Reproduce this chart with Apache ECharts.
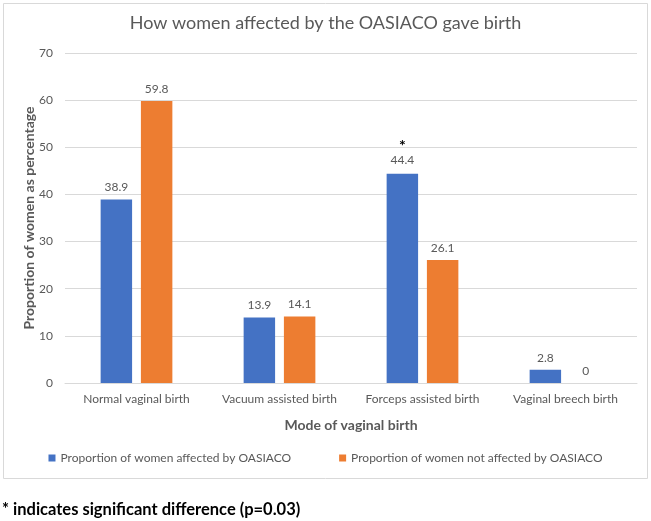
<!DOCTYPE html>
<html><head><meta charset="utf-8">
<script src="https://cdn.jsdelivr.net/npm/echarts@6/dist/echarts.min.js"></script>
<style>html,body{margin:0;padding:0;background:#fff}#c{width:651px;height:521px}</style>
</head><body><div id="c"></div>
<script>
const categories = ['Normal vaginal birth', 'Vacuum assisted birth', 'Forceps assisted birth', 'Vaginal breech birth'];
const affected = [38.9, 13.9, 44.4, 2.8];
const notAffected = [59.8, 14.1, 26.1, 0];
const significant = [false, false, true, false];
const yTicks = [0, 10, 20, 30, 40, 50, 60, 70];

const F = 'Lato, "Open Sans", sans-serif';
const chart = echarts.init(document.getElementById('c'));
const labelBase = { show: true, position: 'top', color: '#595959', fontFamily: F, fontSize: 12, distance: 6 };
chart.setOption({
  animation: false,
  title: { text: 'How women affected by the OASIACO gave birth', left: 'center', top: 9,
    textStyle: { fontFamily: F, fontSize: 18, fontWeight: 'normal', color: '#595959' } },
  graphic: [
    { type: 'rect', shape: { x: 3.5, y: 3.5, width: 644, height: 475 }, style: { fill: 'none', stroke: '#d9d9d9', lineWidth: 1 }, z: -1 },
    { type: 'text', left: 2, top: 501, style: { text: '* indicates significant difference (p=0.03)', fontFamily: F, fontSize: 16.5, fontWeight: 'bold', fill: '#000' } }
  ],
  grid: { left: 65, right: 14, top: 53, bottom: 138 },
  legend: { top: 447, left: 'center', itemWidth: 7, itemHeight: 7, itemGap: 48, icon: 'rect',
    textStyle: { fontFamily: F, fontSize: 12, color: '#595959' } },
  xAxis: { type: 'category', data: categories,
    axisLine: { lineStyle: { color: '#d9d9d9' } }, axisTick: { show: false },
    axisLabel: { color: '#595959', fontFamily: F, fontSize: 12, margin: 10, interval: 0 },
    name: 'Mode of vaginal birth', nameLocation: 'middle', nameGap: 35, nameMoveOverlap: false,
    nameTextStyle: { fontFamily: F, fontSize: 14, fontWeight: 'bold', color: '#595959' } },
  yAxis: { type: 'value', min: yTicks[0], max: yTicks[yTicks.length - 1], interval: 10,
    axisLine: { show: false }, axisTick: { show: false },
    splitLine: { lineStyle: { color: '#d9d9d9' } },
    axisLabel: { color: '#595959', fontFamily: F, fontSize: 12, margin: 12 },
    name: 'Proportion of women as percentage', nameLocation: 'middle', nameGap: 29, nameMoveOverlap: false,
    nameTextStyle: { fontFamily: F, fontSize: 14, fontWeight: 'bold', color: '#595959' } },
  series: [
    { name: 'Proportion of women affected by OASIACO', type: 'bar', barWidth: '22%', barGap: '28%',
      itemStyle: { color: '#4472C4' },
      data: affected.map((v, i) => significant[i] ? {
        value: v,
        label: Object.assign({}, labelBase, {
          formatter: '{s|*}\n{v|{c}}',
          rich: { s: { fontFamily: F, fontSize: 16, fontWeight: 'bold', color: '#000', lineHeight: 13 },
                  v: { fontFamily: F, fontSize: 12, color: '#595959', lineHeight: 15 } } })
      } : v),
      label: labelBase },
    { name: 'Proportion of women not affected by OASIACO', type: 'bar', barWidth: '22%',
      itemStyle: { color: '#ED7D31' }, data: notAffected, label: labelBase }
  ]
});
</script></body></html>
